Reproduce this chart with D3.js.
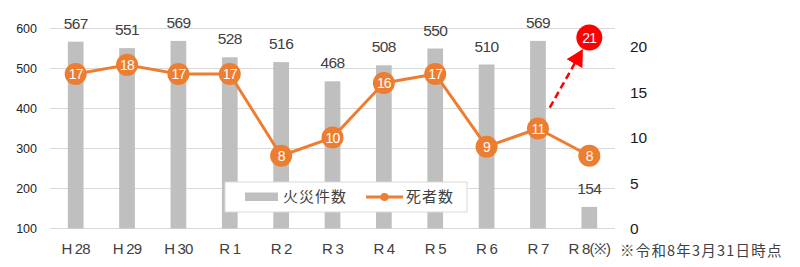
<!DOCTYPE html>
<html><head><meta charset="utf-8">
<script src="https://cdn.jsdelivr.net/npm/d3@7"></script>
<style>
html,body{margin:0;padding:0;background:#fff;}
svg{display:block;}
</style></head>
<body>
<svg id="chart" width="800" height="267"></svg>
<script>
const categories = ["H 28","H 29","H 30","R 1","R 2","R 3","R 4","R 5","R 6","R 7","R 8(※)"];
const fires = [567,551,569,528,516,468,508,550,510,569,154];
const deaths = [17,18,17,17,8,10,16,17,9,11,8];
const leftTicks = [100,200,300,400,500,600];
const rightTicks = [0,5,10,15,20];
const projection = {from: "R 7", fromValue: 11, to: "R 8(※)", value: 21};
const legendLabels = ["火災件数","死者数"];
const note = "※令和8年3月31日時点";

const svg = d3.select("#chart");
const plot = {left:50, right:615, top:28.5, bottom:228.5};
const orange = "#ED7D31", gray = "#BFBFBF", red = "#FF0000";
const numFont = "'Liberation Sans', Arial, sans-serif";
const jpFont = "'Noto Sans CJK JP', 'Noto Sans', sans-serif";

const x = d3.scaleBand().domain(categories).range([plot.left, plot.right])
  .paddingInner(0.694).paddingOuter(0.347);
const yL = d3.scaleLinear().domain([100,600]).range([plot.bottom, plot.top]);
const yR = d3.scaleLinear().domain([0,22]).range([plot.bottom, plot.top]);
const cx = c => x(c) + x.bandwidth()/2;

// gridlines
svg.append("g").selectAll("line").data(leftTicks).join("line")
  .attr("x1", plot.left).attr("x2", plot.right)
  .attr("y1", d => yL(d)).attr("y2", d => yL(d))
  .attr("stroke", "#D9D9D9").attr("stroke-width", 1);

// left axis
const gL = svg.append("g").attr("transform", `translate(${plot.left},0)`)
  .call(d3.axisLeft(yL).tickValues(leftTicks).tickSize(0).tickPadding(13));
gL.select(".domain").remove();
gL.selectAll("text").attr("font-family", numFont).attr("font-size", 12.5).attr("fill", "#262626");

// right axis
const gR = svg.append("g").attr("transform", `translate(${plot.right},0)`)
  .call(d3.axisRight(yR).tickValues(rightTicks).tickSize(0).tickPadding(15));
gR.select(".domain").remove();
gR.selectAll("text").attr("font-family", numFont).attr("font-size", 15.5).attr("fill", "#1a1a1a");

// bottom axis
const gB = svg.append("g").attr("transform", `translate(0,${plot.bottom})`)
  .call(d3.axisBottom(x).tickSize(0).tickPadding(15));
gB.select(".domain").remove();
gB.selectAll("text").attr("font-family", numFont).attr("font-size", 15)
  .attr("letter-spacing", -0.8).attr("fill", "#404040");

// bars
svg.append("g").selectAll("rect").data(categories).join("rect")
  .attr("x", d => x(d)).attr("width", x.bandwidth())
  .attr("y", (d,i) => yL(fires[i]))
  .attr("height", (d,i) => yL(100) - yL(fires[i]))
  .attr("fill", gray);

// bar labels
svg.append("g").selectAll("text").data(categories).join("text")
  .attr("x", d => cx(d)).attr("y", (d,i) => yL(fires[i]) - 13)
  .attr("text-anchor", "middle").attr("font-family", numFont)
  .attr("font-size", 15.5).attr("letter-spacing", -0.6).attr("fill", "#404040")
  .text((d,i) => fires[i]);

// projection arrow
const p0 = [cx(projection.from), yR(projection.fromValue)];
const p1 = [cx(projection.to), yR(projection.value)];
const dx = p1[0]-p0[0], dy = p1[1]-p0[1], len = Math.hypot(dx,dy);
const ux = dx/len, uy = dy/len;
const defs = svg.append("defs");
defs.append("marker").attr("id","arrow").attr("markerUnits","userSpaceOnUse")
  .attr("viewBox","0 0 17 18").attr("refX",15).attr("refY",9)
  .attr("markerWidth",17).attr("markerHeight",18).attr("orient","auto")
  .append("path").attr("d","M0,0 L17,9 L0,18 Z").attr("fill", red);
svg.append("line")
  .attr("x1", p0[0] + ux*24).attr("y1", p0[1] + uy*24)
  .attr("x2", p1[0] - ux*15).attr("y2", p1[1] - uy*15)
  .attr("stroke", red).attr("stroke-width", 2.5).attr("stroke-dasharray","7,4")
  .attr("marker-end","url(#arrow)");
svg.append("circle").attr("cx", p1[0]).attr("cy", p1[1]).attr("r", 13).attr("fill", red);
svg.append("text").attr("x", p1[0]).attr("y", p1[1]).attr("dy","0.36em")
  .attr("text-anchor","middle").attr("font-family", numFont).attr("font-size", 14)
  .attr("letter-spacing", -0.8).attr("fill","#fff").text(projection.value);

// line
const line = d3.line().x((d,i) => cx(categories[i])).y(d => yR(d));
svg.append("path").datum(deaths).attr("d", line)
  .attr("fill","none").attr("stroke", orange).attr("stroke-width", 3).attr("stroke-linejoin","round");
const pts = svg.append("g").selectAll("g").data(deaths).join("g")
  .attr("transform", (d,i) => `translate(${cx(categories[i])},${yR(d)})`);
pts.append("circle").attr("r", 11).attr("fill", orange);
pts.append("text").attr("dy","0.36em").attr("text-anchor","middle")
  .attr("font-family", numFont).attr("font-size", 14).attr("letter-spacing", -0.8)
  .attr("fill","#fff").text(d => d);

// legend
const lg = svg.append("g");
lg.append("rect").attr("x",225).attr("y",182).attr("width",242).attr("height",30)
  .attr("fill","#fff").attr("stroke","#D9D9D9").attr("stroke-width",1);
lg.append("rect").attr("x",245).attr("y",192.5).attr("width",33).attr("height",8.5).attr("fill", gray);
lg.append("text").attr("x",283).attr("y",197).attr("dy","0.35em")
  .attr("font-family", jpFont).attr("font-size",15).attr("letter-spacing",1)
  .attr("fill","#404040").text(legendLabels[0]);
lg.append("line").attr("x1",366).attr("x2",403).attr("y1",197).attr("y2",197)
  .attr("stroke", orange).attr("stroke-width",3);
lg.append("circle").attr("cx",384.5).attr("cy",197).attr("r",4).attr("fill", orange);
lg.append("text").attr("x",406).attr("y",197).attr("dy","0.35em")
  .attr("font-family", jpFont).attr("font-size",15).attr("letter-spacing",1)
  .attr("fill","#404040").text(legendLabels[1]);

// note
svg.append("text").attr("x",620).attr("y",251).attr("dy","0.35em")
  .attr("font-family", jpFont).attr("font-size",14.5).attr("letter-spacing",1.2)
  .attr("fill","#404040").text(note);
</script>
</body></html>
